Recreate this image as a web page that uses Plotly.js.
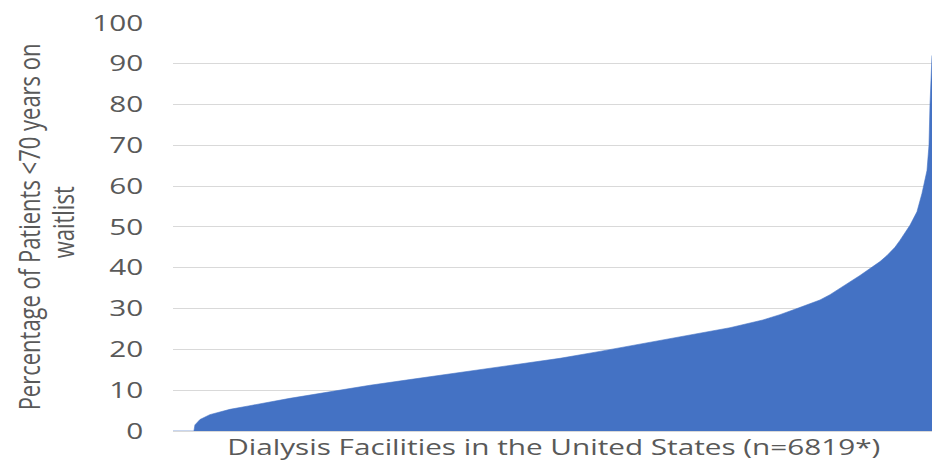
<!DOCTYPE html>
<html>
<head>
<meta charset="utf-8">
<script src="https://cdn.plot.ly/plotly-3.0.1.min.js"></script>
<style>
html,body{margin:0;padding:0;background:#fff;overflow:hidden;width:932px;height:461px;}
#chart{width:690px;height:461px;transform:scaleX(1.350725);transform-origin:0 0;}
</style>
</head>
<body>
<div id="chart"></div>
<script>
// Facility rank (sorted ascending by waitlist percentage) and the percentage read at that rank
var facilityRank = [0, 189, 198, 243, 332, 512, 692, 872, 1051, 1410, 1770, 2129, 2731, 3118, 3477, 3836, 4106, 4707, 5004, 5300, 5453, 5606, 5720, 5813, 5903, 5993, 6082, 6172, 6262, 6352, 6415, 6486, 6531, 6576, 6621, 6684, 6729, 6774, 6792, 6801, 6810, 6819];
var pctWaitlisted = [0, 0, 1.5, 2.8, 4.0, 5.3, 6.2, 7.1, 8.0, 9.6, 11.2, 12.6, 15.0, 16.5, 17.8, 19.5, 20.8, 23.7, 25.3, 27.2, 28.5, 30.0, 31.1, 32.1, 33.4, 34.9, 36.5, 38.1, 39.8, 41.5, 43.0, 45.0, 46.7, 48.5, 50.4, 53.7, 58.2, 63.8, 70, 80, 92, 92];
var yTicks = [0, 10, 20, 30, 40, 50, 60, 70, 80, 90, 100];
var totalFacilities = 6819;
var xTitle = "Dialysis Facilities in the United States (n=6819*)";
var yTitleLine1 = "Percentage of Patients <70 years on";
var yTitleLine2 = "waitlist";

var trace = {
  x: facilityRank,
  y: pctWaitlisted,
  type: 'scatter',
  mode: 'lines',
  fill: 'tozeroy',
  fillcolor: '#4472C4',
  line: {color: '#4472C4', width: 0.5},
  hoverinfo: 'skip'
};

var font = 'Open Sans, sans-serif';
var layout = {
  width: 690,
  height: 461,
  margin: {l: 128, r: 0, t: 22, b: 30},
  paper_bgcolor: '#ffffff',
  plot_bgcolor: '#ffffff',
  showlegend: false,
  xaxis: {
    range: [0, totalFacilities],
    showgrid: false,
    zeroline: false,
    showticklabels: false,
    ticks: '',
    showline: true,
    linecolor: '#d9d9d9',
    linewidth: 1,
    fixedrange: true
  },
  yaxis: {
    range: [0, 100.2],
    tickvals: yTicks,
    ticktext: yTicks.map(String),
    showgrid: true,
    gridcolor: '#d9d9d9',
    gridwidth: 1,
    zeroline: false,
    showline: false,
    ticks: '',
    ticklabelstandoff: 21,
    tickfont: {family: font, size: 22, color: '#595959'},
    fixedrange: true
  },
  annotations: [
    {
      text: xTitle, xref: 'paper', yref: 'paper',
      x: 0.502, y: -15 / 409,
      xanchor: 'center', yanchor: 'middle', showarrow: false,
      font: {family: font, size: 22, color: '#595959'}
    },
    {
      text: yTitleLine1, xref: 'paper', yref: 'paper',
      x: -0.1922, y: 0.5, textangle: -90,
      xanchor: 'center', yanchor: 'middle', showarrow: false,
      font: {family: font, size: 22, color: '#595959'}
    },
    {
      text: yTitleLine2, xref: 'paper', yref: 'paper',
      x: -0.146, y: 0.51, textangle: -90,
      xanchor: 'center', yanchor: 'middle', showarrow: false,
      font: {family: font, size: 22, color: '#595959'}
    }
  ]
};

Plotly.newPlot('chart', [trace], layout, {displayModeBar: false, staticPlot: true});
</script>
</body>
</html>
